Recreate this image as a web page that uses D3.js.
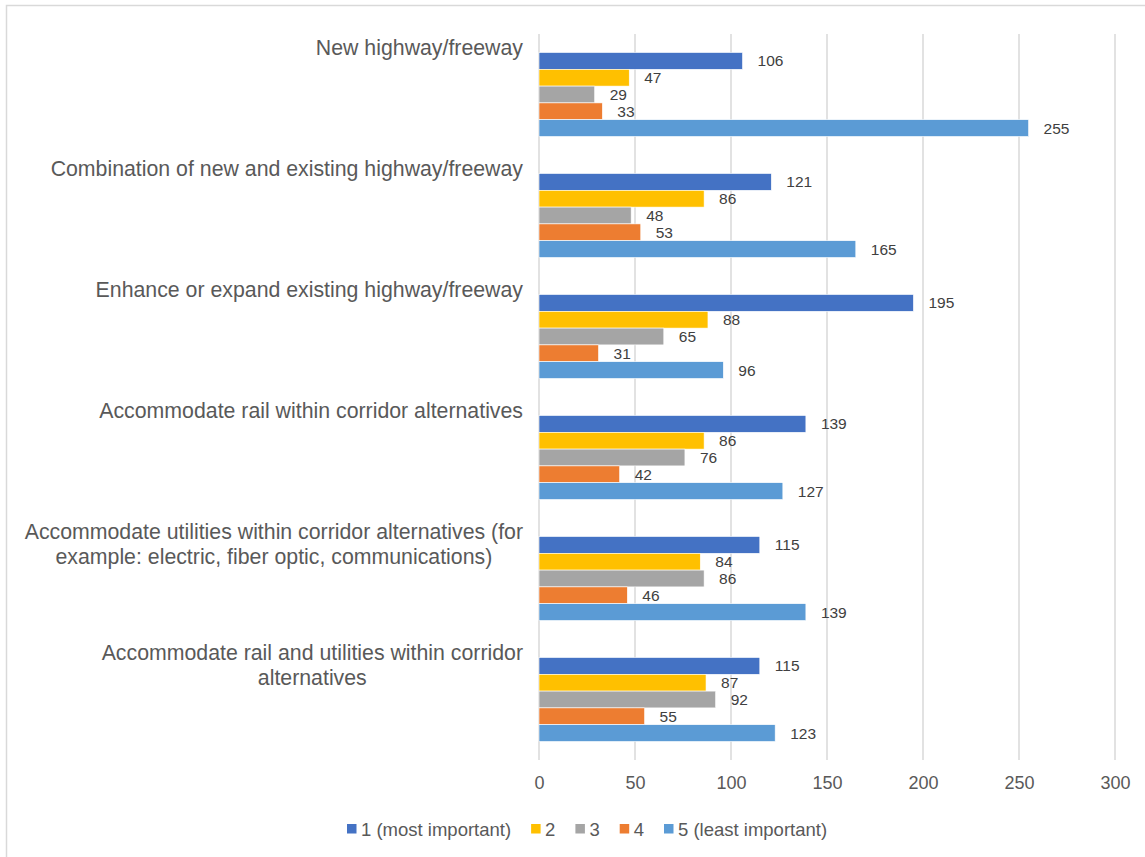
<!DOCTYPE html>
<html>
<head>
<meta charset="utf-8">
<script src="https://cdn.jsdelivr.net/npm/d3@7"></script>
<style>
  html, body { margin: 0; padding: 0; background: #fff; }
  svg { display: block; font-family: "Liberation Sans", Arial, sans-serif; }
</style>
</head>
<body>
<svg id="chart" width="1145" height="857"></svg>
<script>
// Survey categories (each label split into its drawn lines)
const categories = [
  ["New highway/freeway"],
  ["Combination of new and existing highway/freeway"],
  ["Enhance or expand existing highway/freeway"],
  ["Accommodate rail within corridor alternatives"],
  ["Accommodate utilities within corridor alternatives (for", "example: electric, fiber optic, communications)"],
  ["Accommodate rail and utilities within corridor", "alternatives"]
];
const seriesNames = ["1 (most important)", "2", "3", "4", "5 (least important)"];
const seriesColors = ["#4472C4", "#FFC000", "#A5A5A5", "#ED7D31", "#5B9BD5"];

// Responses per category, one array per rank
const rank1 = [106, 121, 195, 139, 115, 115];
const rank2 = [47, 86, 88, 86, 84, 87];
const rank3 = [29, 48, 65, 76, 86, 92];
const rank4 = [33, 53, 31, 42, 46, 55];
const rank5 = [255, 165, 96, 127, 139, 123];
const seriesValues = [rank1, rank2, rank3, rank4, rank5];

const xTicks = [0, 50, 100, 150, 200, 250, 300];

const svg = d3.select("#chart");
const textColor = "#595959";

// chart frame
svg.append("rect")
  .attr("x", 6.5).attr("y", 5.5)
  .attr("width", 1300).attr("height", 1000)
  .attr("fill", "#fff").attr("stroke", "#d9d9d9").attr("stroke-width", 1.5);

const plot = { left: 539, right: 1115, top: 34, bottom: 760 };

const x = d3.scaleLinear().domain([0, 300]).range([plot.left, plot.right]);
const catIdx = d3.range(categories.length);
const y0 = d3.scaleBand().domain(catIdx).range([plot.top, plot.bottom])
  .paddingInner(0.306).paddingOuter(0.153);
const y1 = d3.scaleBand().domain(d3.range(seriesNames.length)).range([0, y0.bandwidth()]);

// vertical gridlines
svg.append("g")
  .selectAll("line").data(xTicks).join("line")
  .attr("x1", d => x(d)).attr("x2", d => x(d))
  .attr("y1", plot.top).attr("y2", plot.bottom)
  .attr("stroke", "#d9d9d9").attr("stroke-width", 1.5);

// x axis labels
const xAxis = d3.axisBottom(x).tickValues(xTicks).tickSize(0).tickPadding(0);
const gx = svg.append("g").attr("transform", `translate(0,${plot.bottom + 16})`).call(xAxis);
gx.select(".domain").remove();
gx.selectAll("text")
  .attr("fill", textColor).attr("font-size", 18)
  .attr("font-family", "Liberation Sans, Arial, sans-serif");

// bars and value labels
const groups = svg.append("g").selectAll("g").data(catIdx).join("g")
  .attr("transform", i => `translate(0,${y0(i)})`);

groups.selectAll("rect")
  .data(i => seriesValues.map((vals, s) => ({ s, v: vals[i] })))
  .join("rect")
  .attr("x", x(0))
  .attr("y", d => y1(d.s))
  .attr("width", d => x(d.v) - x(0))
  .attr("height", y1.bandwidth())
  .attr("fill", d => seriesColors[d.s])
  .attr("stroke", "#fff").attr("stroke-width", 0.6);

groups.selectAll("text.val")
  .data(i => seriesValues.map((vals, s) => ({ s, v: vals[i] })))
  .join("text")
  .attr("class", "val")
  .attr("x", d => x(d.v) + 15)
  .attr("y", d => y1(d.s) + y1.bandwidth() / 2)
  .attr("dy", "0.36em")
  .attr("fill", "#404040")
  .attr("font-size", 15.5)
  .text(d => d.v);

// category labels: right-aligned block, lines centred within it
const labelRight = 523;
const catG = svg.append("g");
catIdx.forEach(i => {
  const lines = categories[i];
  const t = catG.append("text")
    .attr("fill", textColor).attr("font-size", 21.3);
  const spans = lines.map((ln, k) =>
    t.append("tspan").attr("y", y0(i) + 2 + k * 25).text(ln));
  const widths = spans.map(s => s.node().getComputedTextLength());
  const blockW = d3.max(widths);
  const cx = labelRight - blockW / 2;
  spans.forEach(s => s.attr("x", cx).attr("text-anchor", "middle"));
});

// legend
const legend = svg.append("g");
let lx = 347;
const ly = 829;
seriesNames.forEach((name, s) => {
  legend.append("rect")
    .attr("x", lx).attr("y", ly - 5).attr("width", 9.5).attr("height", 9.5)
    .attr("fill", seriesColors[s]);
  const t = legend.append("text")
    .attr("x", lx + 14).attr("y", ly).attr("dy", "0.36em")
    .attr("fill", textColor).attr("font-size", 18.5)
    .text(name);
  lx = lx + 14 + t.node().getComputedTextLength() + 20;
});
</script>
</body>
</html>
